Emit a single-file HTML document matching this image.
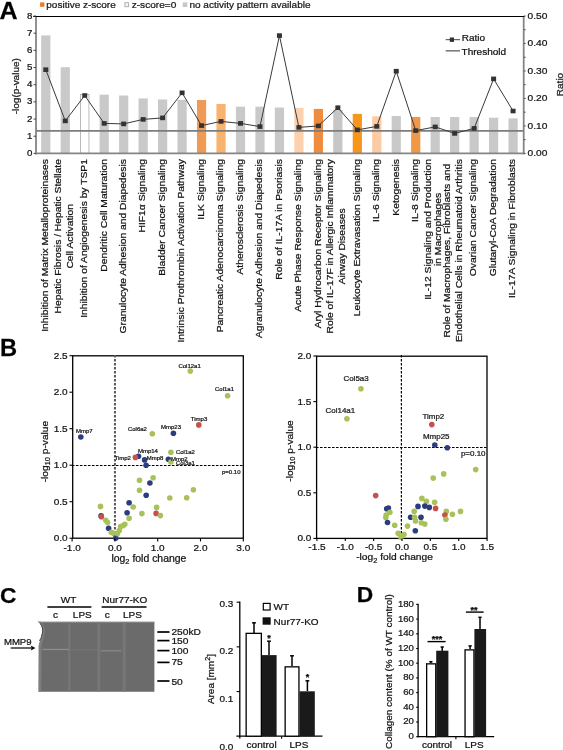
<!DOCTYPE html>
<html><head><meta charset="utf-8"><title>Figure</title>
<style>
html,body{margin:0;padding:0;background:#fff;}
svg{display:block;font-family:"Liberation Sans", sans-serif;filter:blur(0.35px);}
text{stroke:#161616;stroke-width:0.25px;}
</style></head>
<body>
<svg width="563" height="750" viewBox="0 0 563 750">
<rect width="563" height="750" fill="#fff"/>
<text x="0" y="0" font-size="23.2" font-weight="bold" fill="#000" transform="translate(-0.6 19.4) scale(1.08 1)">A</text>
<rect x="40.10" y="2.40" width="4.30" height="4.40" fill="#E8782C"/>
<text x="0" y="0" font-size="10.0" text-anchor="start" fill="#222" transform="translate(46.30 7.80) scale(1 0.96)">positive z-score</text>
<rect x="124.90" y="2.70" width="3.60" height="4.00" fill="#f4f4f4" stroke="#a8a8a8" stroke-width="0.9"/>
<text x="0" y="0" font-size="10.1" text-anchor="start" fill="#222" transform="translate(131.70 7.80) scale(1 0.96)">z-score=0</text>
<rect x="182.70" y="2.40" width="4.60" height="4.60" fill="#c8c8c8"/>
<text x="0" y="0" font-size="10.05" text-anchor="start" fill="#222" transform="translate(189.40 7.80) scale(1 0.96)">no activity pattern available</text>
<rect x="41.20" y="35.41" width="9.20" height="117.99" fill="#c9c9c9"/>
<rect x="60.67" y="67.18" width="9.20" height="86.22" fill="#c9c9c9"/>
<rect x="80.54" y="94.37" width="8.40" height="59.03" fill="#fff" stroke="#aaa" stroke-width="0.8"/>
<rect x="99.61" y="94.66" width="9.20" height="58.74" fill="#c9c9c9"/>
<rect x="119.08" y="95.52" width="9.20" height="57.88" fill="#c9c9c9"/>
<rect x="138.55" y="98.44" width="9.20" height="54.96" fill="#c9c9c9"/>
<rect x="158.02" y="99.47" width="9.20" height="53.93" fill="#c9c9c9"/>
<rect x="177.49" y="99.81" width="9.20" height="53.59" fill="#c9c9c9"/>
<rect x="196.96" y="99.99" width="9.20" height="53.41" fill="#EF9A55"/>
<rect x="216.43" y="103.94" width="9.20" height="49.46" fill="#F8B36E"/>
<rect x="235.90" y="106.68" width="9.20" height="46.72" fill="#c9c9c9"/>
<rect x="255.37" y="106.68" width="9.20" height="46.72" fill="#c9c9c9"/>
<rect x="274.84" y="107.54" width="9.20" height="45.86" fill="#c9c9c9"/>
<rect x="294.31" y="107.89" width="9.20" height="45.51" fill="#FDD1AE"/>
<rect x="313.78" y="108.92" width="9.20" height="44.48" fill="#F08C3E"/>
<rect x="333.25" y="109.95" width="9.20" height="43.45" fill="#c6c6c6"/>
<rect x="352.72" y="113.90" width="9.20" height="39.50" fill="#F6961A"/>
<rect x="372.19" y="116.30" width="9.20" height="37.10" fill="#FDCBA3"/>
<rect x="391.66" y="115.96" width="9.20" height="37.44" fill="#c9c9c9"/>
<rect x="411.13" y="116.99" width="9.20" height="36.41" fill="#F09848"/>
<rect x="430.60" y="116.99" width="9.20" height="36.41" fill="#c9c9c9"/>
<rect x="450.07" y="116.99" width="9.20" height="36.41" fill="#c9c9c9"/>
<rect x="469.54" y="116.99" width="9.20" height="36.41" fill="#c9c9c9"/>
<rect x="489.01" y="117.68" width="9.20" height="35.72" fill="#c9c9c9"/>
<rect x="508.48" y="118.36" width="9.20" height="35.04" fill="#c9c9c9"/>
<line x1="33.20" y1="16.50" x2="524.60" y2="16.50" stroke="#000" stroke-width="1.0"/>
<line x1="36.00" y1="130.90" x2="523.70" y2="130.90" stroke="#7d7d7d" stroke-width="1.6"/>
<polyline points="45.80,69.70 65.27,120.90 84.74,95.50 104.21,123.40 123.68,123.90 143.15,119.40 162.62,117.90 182.09,92.80 201.56,125.60 221.03,121.40 240.50,123.40 259.97,126.60 279.44,35.60 298.91,127.40 318.38,125.90 337.85,107.70 357.32,129.90 376.79,126.40 396.26,71.20 415.73,130.60 435.20,126.90 454.67,133.40 474.14,128.40 493.61,78.90 513.08,111.00" fill="none" stroke="#3a3a3a" stroke-width="1"/>
<rect x="43.30" y="67.40" width="5.00" height="4.60" fill="#333"/>
<rect x="62.77" y="118.60" width="5.00" height="4.60" fill="#333"/>
<rect x="82.24" y="93.20" width="5.00" height="4.60" fill="#333"/>
<rect x="101.71" y="121.10" width="5.00" height="4.60" fill="#333"/>
<rect x="121.18" y="121.60" width="5.00" height="4.60" fill="#333"/>
<rect x="140.65" y="117.10" width="5.00" height="4.60" fill="#333"/>
<rect x="160.12" y="115.60" width="5.00" height="4.60" fill="#333"/>
<rect x="179.59" y="90.50" width="5.00" height="4.60" fill="#333"/>
<rect x="199.06" y="123.30" width="5.00" height="4.60" fill="#333"/>
<rect x="218.53" y="119.10" width="5.00" height="4.60" fill="#333"/>
<rect x="238.00" y="121.10" width="5.00" height="4.60" fill="#333"/>
<rect x="257.47" y="124.30" width="5.00" height="4.60" fill="#333"/>
<rect x="276.94" y="33.30" width="5.00" height="4.60" fill="#333"/>
<rect x="296.41" y="125.10" width="5.00" height="4.60" fill="#333"/>
<rect x="315.88" y="123.60" width="5.00" height="4.60" fill="#333"/>
<rect x="335.35" y="105.40" width="5.00" height="4.60" fill="#333"/>
<rect x="354.82" y="127.60" width="5.00" height="4.60" fill="#333"/>
<rect x="374.29" y="124.10" width="5.00" height="4.60" fill="#333"/>
<rect x="393.76" y="68.90" width="5.00" height="4.60" fill="#333"/>
<rect x="413.23" y="128.30" width="5.00" height="4.60" fill="#333"/>
<rect x="432.70" y="124.60" width="5.00" height="4.60" fill="#333"/>
<rect x="452.17" y="131.10" width="5.00" height="4.60" fill="#333"/>
<rect x="471.64" y="126.10" width="5.00" height="4.60" fill="#333"/>
<rect x="491.11" y="76.60" width="5.00" height="4.60" fill="#333"/>
<rect x="510.58" y="108.70" width="5.00" height="4.60" fill="#333"/>
<line x1="36.00" y1="17.00" x2="36.00" y2="154.40" stroke="#858585" stroke-width="1.8"/>
<line x1="523.70" y1="17.00" x2="523.70" y2="154.40" stroke="#858585" stroke-width="1.8"/>
<line x1="36.00" y1="153.40" x2="523.70" y2="153.40" stroke="#858585" stroke-width="1.8"/>
<line x1="33.60" y1="153.40" x2="36.00" y2="153.40" stroke="#444" stroke-width="1"/>
<text x="0" y="0" font-size="9.7" text-anchor="end" fill="#111" transform="translate(32.50 155.90) scale(1 0.96)">0</text>
<line x1="33.60" y1="136.22" x2="36.00" y2="136.22" stroke="#444" stroke-width="1"/>
<text x="0" y="0" font-size="9.7" text-anchor="end" fill="#111" transform="translate(32.50 138.72) scale(1 0.96)">1</text>
<line x1="33.60" y1="119.05" x2="36.00" y2="119.05" stroke="#444" stroke-width="1"/>
<text x="0" y="0" font-size="9.7" text-anchor="end" fill="#111" transform="translate(32.50 121.55) scale(1 0.96)">2</text>
<line x1="33.60" y1="101.88" x2="36.00" y2="101.88" stroke="#444" stroke-width="1"/>
<text x="0" y="0" font-size="9.7" text-anchor="end" fill="#111" transform="translate(32.50 104.38) scale(1 0.96)">3</text>
<line x1="33.60" y1="84.70" x2="36.00" y2="84.70" stroke="#444" stroke-width="1"/>
<text x="0" y="0" font-size="9.7" text-anchor="end" fill="#111" transform="translate(32.50 87.20) scale(1 0.96)">4</text>
<line x1="33.60" y1="67.53" x2="36.00" y2="67.53" stroke="#444" stroke-width="1"/>
<text x="0" y="0" font-size="9.7" text-anchor="end" fill="#111" transform="translate(32.50 70.03) scale(1 0.96)">5</text>
<line x1="33.60" y1="50.35" x2="36.00" y2="50.35" stroke="#444" stroke-width="1"/>
<text x="0" y="0" font-size="9.7" text-anchor="end" fill="#111" transform="translate(32.50 52.85) scale(1 0.96)">6</text>
<line x1="33.60" y1="33.17" x2="36.00" y2="33.17" stroke="#444" stroke-width="1"/>
<text x="0" y="0" font-size="9.7" text-anchor="end" fill="#111" transform="translate(32.50 35.67) scale(1 0.96)">7</text>
<line x1="33.60" y1="16.00" x2="36.00" y2="16.00" stroke="#444" stroke-width="1"/>
<text x="0" y="0" font-size="9.7" text-anchor="end" fill="#111" transform="translate(32.50 18.50) scale(1 0.96)">8</text>
<line x1="523.70" y1="153.40" x2="525.70" y2="153.40" stroke="#555" stroke-width="1"/>
<text x="0" y="0" font-size="10.2" text-anchor="start" fill="#111" transform="translate(527.60 156.20) scale(1 0.96)">0.00</text>
<line x1="523.70" y1="139.66" x2="525.70" y2="139.66" stroke="#555" stroke-width="1"/>
<line x1="523.70" y1="125.92" x2="525.70" y2="125.92" stroke="#555" stroke-width="1"/>
<text x="0" y="0" font-size="10.2" text-anchor="start" fill="#111" transform="translate(527.60 128.72) scale(1 0.96)">0.10</text>
<line x1="523.70" y1="112.18" x2="525.70" y2="112.18" stroke="#555" stroke-width="1"/>
<line x1="523.70" y1="98.44" x2="525.70" y2="98.44" stroke="#555" stroke-width="1"/>
<text x="0" y="0" font-size="10.2" text-anchor="start" fill="#111" transform="translate(527.60 101.24) scale(1 0.96)">0.20</text>
<line x1="523.70" y1="84.70" x2="525.70" y2="84.70" stroke="#555" stroke-width="1"/>
<line x1="523.70" y1="70.96" x2="525.70" y2="70.96" stroke="#555" stroke-width="1"/>
<text x="0" y="0" font-size="10.2" text-anchor="start" fill="#111" transform="translate(527.60 73.76) scale(1 0.96)">0.30</text>
<line x1="523.70" y1="57.22" x2="525.70" y2="57.22" stroke="#555" stroke-width="1"/>
<line x1="523.70" y1="43.48" x2="525.70" y2="43.48" stroke="#555" stroke-width="1"/>
<text x="0" y="0" font-size="10.2" text-anchor="start" fill="#111" transform="translate(527.60 46.28) scale(1 0.96)">0.40</text>
<line x1="523.70" y1="29.74" x2="525.70" y2="29.74" stroke="#555" stroke-width="1"/>
<line x1="523.70" y1="16.00" x2="525.70" y2="16.00" stroke="#555" stroke-width="1"/>
<text x="0" y="0" font-size="10.2" text-anchor="start" fill="#111" transform="translate(527.60 18.80) scale(1 0.96)">0.50</text>
<text x="0" y="0" font-size="10" text-anchor="middle" fill="#222" transform="translate(18.50 86.20) rotate(-90) scale(1 0.96)">-log(p-value)</text>
<text x="0" y="0" font-size="10" text-anchor="middle" fill="#222" transform="translate(563.00 84.50) rotate(-90) scale(1 0.96)">Ratio</text>
<line x1="445.70" y1="39.70" x2="460.00" y2="39.70" stroke="#444" stroke-width="1"/>
<rect x="449.80" y="37.50" width="4.20" height="4.40" fill="#333"/>
<text x="0" y="0" font-size="10" text-anchor="start" fill="#111" transform="translate(461.80 41.30) scale(1 0.96)">Ratio</text>
<line x1="445.70" y1="50.80" x2="460.00" y2="50.80" stroke="#7d7d7d" stroke-width="1.6"/>
<text x="0" y="0" font-size="10" text-anchor="start" fill="#111" transform="translate(461.60 55.00) scale(1 0.96)">Threshold</text>
<text x="0" y="0" font-size="10.3" text-anchor="middle" fill="#111" transform="translate(48.10 245.44) rotate(-90) scale(1 0.96)">Inhibition of Matrix Metalloproteinases</text>
<text x="0" y="0" font-size="10.3" text-anchor="middle" fill="#111" transform="translate(60.67 236.28) rotate(-90) scale(1 0.96)">Hepatic Fibrosis / Hepatic Stellate</text>
<text x="0" y="0" font-size="10.3" text-anchor="middle" fill="#111" transform="translate(72.87 236.28) rotate(-90) scale(1 0.96)">Cell Activation</text>
<text x="0" y="0" font-size="10.3" text-anchor="middle" fill="#111" transform="translate(87.04 238.49) rotate(-90) scale(1 0.96)">Inhibition of Angiogenesis by TSP1</text>
<text x="0" y="0" font-size="10.3" text-anchor="middle" fill="#111" transform="translate(106.51 215.38) rotate(-90) scale(1 0.96)">Dendritic Cell Maturation</text>
<text x="0" y="0" font-size="10.3" text-anchor="middle" fill="#111" transform="translate(125.98 246.32) rotate(-90) scale(1 0.96)">Granulocyte Adhesion and Diapedesis</text>
<text x="0" y="0" font-size="10.3" text-anchor="middle" fill="#111" transform="translate(145.45 195.75) rotate(-90) scale(1 0.96)">HIF1α Signaling</text>
<text x="0" y="0" font-size="10.3" text-anchor="middle" fill="#111" transform="translate(164.92 217.40) rotate(-90) scale(1 0.96)">Bladder Cancer Signaling</text>
<text x="0" y="0" font-size="10.3" text-anchor="middle" fill="#111" transform="translate(184.39 250.88) rotate(-90) scale(1 0.96)">Intrinsic Prothrombin Activation Pathway</text>
<text x="0" y="0" font-size="10.3" text-anchor="middle" fill="#111" transform="translate(203.86 189.35) rotate(-90) scale(1 0.96)">ILK Signaling</text>
<text x="0" y="0" font-size="10.3" text-anchor="middle" fill="#111" transform="translate(223.33 245.74) rotate(-90) scale(1 0.96)">Pancreatic Adenocarcinoma Signaling</text>
<text x="0" y="0" font-size="10.3" text-anchor="middle" fill="#111" transform="translate(242.80 216.82) rotate(-90) scale(1 0.96)">Atherosclerosis Signaling</text>
<text x="0" y="0" font-size="10.3" text-anchor="middle" fill="#111" transform="translate(262.27 248.61) rotate(-90) scale(1 0.96)">Agranulocyte Adhesion and Diapedesis</text>
<text x="0" y="0" font-size="10.3" text-anchor="middle" fill="#111" transform="translate(281.74 219.40) rotate(-90) scale(1 0.96)">Role of IL-17A in Psoriasis</text>
<text x="0" y="0" font-size="10.3" text-anchor="middle" fill="#111" transform="translate(301.21 235.44) rotate(-90) scale(1 0.96)">Acute Phase Response Signaling</text>
<text x="0" y="0" font-size="10.3" text-anchor="middle" fill="#111" transform="translate(320.68 243.73) rotate(-90) scale(1 0.96)">Aryl Hydrocarbon Receptor Signaling</text>
<text x="0" y="0" font-size="10.3" text-anchor="middle" fill="#111" transform="translate(333.25 246.29) rotate(-90) scale(1 0.96)">Role of IL-17F in Allergic Inflammatory</text>
<text x="0" y="0" font-size="10.3" text-anchor="middle" fill="#111" transform="translate(345.45 246.29) rotate(-90) scale(1 0.96)">Airway Diseases</text>
<text x="0" y="0" font-size="10.3" text-anchor="middle" fill="#111" transform="translate(359.62 237.72) rotate(-90) scale(1 0.96)">Leukocyte Extravasation Signaling</text>
<text x="0" y="0" font-size="10.3" text-anchor="middle" fill="#111" transform="translate(379.09 190.49) rotate(-90) scale(1 0.96)">IL-6 Signaling</text>
<text x="0" y="0" font-size="10.3" text-anchor="middle" fill="#111" transform="translate(398.56 187.34) rotate(-90) scale(1 0.96)">Ketogenesis</text>
<text x="0" y="0" font-size="10.3" text-anchor="middle" fill="#111" transform="translate(418.03 190.49) rotate(-90) scale(1 0.96)">IL-8 Signaling</text>
<text x="0" y="0" font-size="10.3" text-anchor="middle" fill="#111" transform="translate(430.60 229.43) rotate(-90) scale(1 0.96)">IL-12 Signaling and Production</text>
<text x="0" y="0" font-size="10.3" text-anchor="middle" fill="#111" transform="translate(441.10 229.43) rotate(-90) scale(1 0.96)">in Macrophages</text>
<text x="0" y="0" font-size="10.3" text-anchor="middle" fill="#111" transform="translate(450.07 250.60) rotate(-90) scale(1 0.96)">Role of Macrophages, Fibroblasts and</text>
<text x="0" y="0" font-size="10.3" text-anchor="middle" fill="#111" transform="translate(462.27 250.60) rotate(-90) scale(1 0.96)">Endothelial Cells in Rheumatoid Arthritis</text>
<text x="0" y="0" font-size="10.3" text-anchor="middle" fill="#111" transform="translate(476.44 217.68) rotate(-90) scale(1 0.96)">Ovarian Cancer Signaling</text>
<text x="0" y="0" font-size="10.3" text-anchor="middle" fill="#111" transform="translate(495.91 217.68) rotate(-90) scale(1 0.96)">Glutaryl-CoA Degradation</text>
<text x="0" y="0" font-size="10.3" text-anchor="middle" fill="#111" transform="translate(515.38 228.56) rotate(-90) scale(1 0.96)">IL-17A Signaling in Fibroblasts</text>
<text x="0" y="0" font-size="23" font-weight="bold" fill="#000" transform="translate(-0.1 356.1) scale(1.03 1)">B</text>
<rect x="72.7" y="355.8" width="170.60" height="182.40" fill="none" stroke="#000" stroke-width="1.3"/>
<line x1="114.95" y1="355.10" x2="114.95" y2="538.20" stroke="#5a5a5a" stroke-width="2.0" stroke-dasharray="2.5,1.5"/>
<line x1="71.90" y1="465.50" x2="243.30" y2="465.50" stroke="#000" stroke-width="1.2" stroke-dasharray="2.6,1.4"/>
<circle cx="190.30" cy="371.10" r="2.8" fill="#A9C15A"/>
<circle cx="227.60" cy="395.80" r="2.8" fill="#A9C15A"/>
<circle cx="198.80" cy="424.90" r="2.8" fill="#C8504A"/>
<circle cx="173.40" cy="433.30" r="2.8" fill="#2A3D7F"/>
<circle cx="152.30" cy="433.80" r="2.8" fill="#A9C15A"/>
<circle cx="80.80" cy="437.00" r="2.8" fill="#2A3D7F"/>
<circle cx="170.90" cy="452.30" r="2.8" fill="#A9C15A"/>
<circle cx="138.50" cy="456.30" r="2.8" fill="#2A3D7F"/>
<circle cx="135.40" cy="457.40" r="2.8" fill="#C8504A"/>
<circle cx="144.60" cy="459.90" r="2.8" fill="#2A3D7F"/>
<circle cx="168.40" cy="459.30" r="2.8" fill="#2A3D7F"/>
<circle cx="170.90" cy="462.00" r="2.8" fill="#A9C15A"/>
<circle cx="146.10" cy="465.30" r="2.8" fill="#2A3D7F"/>
<circle cx="139.50" cy="480.30" r="2.8" fill="#A9C15A"/>
<circle cx="153.10" cy="477.80" r="2.8" fill="#A9C15A"/>
<circle cx="149.90" cy="483.00" r="2.8" fill="#2A3D7F"/>
<circle cx="139.50" cy="490.20" r="2.8" fill="#A9C15A"/>
<circle cx="146.20" cy="495.20" r="2.8" fill="#2A3D7F"/>
<circle cx="193.40" cy="489.70" r="2.8" fill="#A9C15A"/>
<circle cx="169.80" cy="498.00" r="2.8" fill="#A9C15A"/>
<circle cx="186.70" cy="497.70" r="2.8" fill="#A9C15A"/>
<circle cx="133.20" cy="507.00" r="2.8" fill="#A9C15A"/>
<circle cx="156.60" cy="507.40" r="2.8" fill="#A9C15A"/>
<circle cx="141.90" cy="513.60" r="2.8" fill="#A9C15A"/>
<circle cx="156.10" cy="513.40" r="2.8" fill="#C8504A"/>
<circle cx="160.40" cy="515.60" r="2.8" fill="#A9C15A"/>
<circle cx="100.50" cy="506.40" r="2.8" fill="#A9C15A"/>
<circle cx="101.10" cy="515.90" r="2.8" fill="#2A3D7F"/>
<circle cx="101.40" cy="516.80" r="2.8" fill="#C8504A"/>
<circle cx="105.80" cy="520.30" r="2.8" fill="#A9C15A"/>
<circle cx="107.60" cy="522.50" r="2.8" fill="#A9C15A"/>
<circle cx="108.60" cy="528.30" r="2.8" fill="#2A3D7F"/>
<circle cx="111.30" cy="532.30" r="2.8" fill="#A9C15A"/>
<circle cx="113.50" cy="533.20" r="2.8" fill="#A9C15A"/>
<circle cx="115.80" cy="538.10" r="2.8" fill="#2A3D7F"/>
<circle cx="117.50" cy="533.60" r="2.8" fill="#A9C15A"/>
<circle cx="119.30" cy="530.50" r="2.8" fill="#A9C15A"/>
<circle cx="120.60" cy="526.50" r="2.8" fill="#A9C15A"/>
<circle cx="123.30" cy="525.60" r="2.8" fill="#A9C15A"/>
<circle cx="124.80" cy="524.30" r="2.8" fill="#A9C15A"/>
<circle cx="129.10" cy="518.30" r="2.8" fill="#A9C15A"/>
<circle cx="127.10" cy="512.80" r="2.8" fill="#2A3D7F"/>
<circle cx="129.10" cy="502.80" r="2.8" fill="#2A3D7F"/>
<line x1="69.50" y1="538.20" x2="72.70" y2="538.20" stroke="#000" stroke-width="1.1"/>
<text x="0" y="0" font-size="10" text-anchor="end" fill="#111" transform="translate(67.60 541.20) scale(1 0.96)">0.0</text>
<line x1="69.50" y1="501.70" x2="72.70" y2="501.70" stroke="#000" stroke-width="1.1"/>
<text x="0" y="0" font-size="10" text-anchor="end" fill="#111" transform="translate(67.60 504.70) scale(1 0.96)">0.5</text>
<line x1="69.50" y1="465.20" x2="72.70" y2="465.20" stroke="#000" stroke-width="1.1"/>
<text x="0" y="0" font-size="10" text-anchor="end" fill="#111" transform="translate(67.60 468.20) scale(1 0.96)">1.0</text>
<line x1="69.50" y1="428.70" x2="72.70" y2="428.70" stroke="#000" stroke-width="1.1"/>
<text x="0" y="0" font-size="10" text-anchor="end" fill="#111" transform="translate(67.60 431.70) scale(1 0.96)">1.5</text>
<line x1="69.50" y1="392.20" x2="72.70" y2="392.20" stroke="#000" stroke-width="1.1"/>
<text x="0" y="0" font-size="10" text-anchor="end" fill="#111" transform="translate(67.60 395.20) scale(1 0.96)">2.0</text>
<line x1="69.50" y1="355.70" x2="72.70" y2="355.70" stroke="#000" stroke-width="1.1"/>
<text x="0" y="0" font-size="10" text-anchor="end" fill="#111" transform="translate(67.60 358.70) scale(1 0.96)">2.5</text>
<line x1="72.10" y1="538.20" x2="72.10" y2="541.40" stroke="#000" stroke-width="1.1"/>
<text x="0" y="0" font-size="10" text-anchor="middle" fill="#111" transform="translate(72.10 550.80) scale(1 0.96)">-1.0</text>
<line x1="114.90" y1="538.20" x2="114.90" y2="541.40" stroke="#000" stroke-width="1.1"/>
<text x="0" y="0" font-size="10" text-anchor="middle" fill="#111" transform="translate(114.90 550.80) scale(1 0.96)">0.0</text>
<line x1="157.70" y1="538.20" x2="157.70" y2="541.40" stroke="#000" stroke-width="1.1"/>
<text x="0" y="0" font-size="10" text-anchor="middle" fill="#111" transform="translate(157.70 550.80) scale(1 0.96)">1.0</text>
<line x1="200.50" y1="538.20" x2="200.50" y2="541.40" stroke="#000" stroke-width="1.1"/>
<text x="0" y="0" font-size="10" text-anchor="middle" fill="#111" transform="translate(200.50 550.80) scale(1 0.96)">2.0</text>
<line x1="243.30" y1="538.20" x2="243.30" y2="541.40" stroke="#000" stroke-width="1.1"/>
<text x="0" y="0" font-size="10" text-anchor="middle" fill="#111" transform="translate(243.30 550.80) scale(1 0.96)">3.0</text>
<text x="0" y="0" font-size="6.0" text-anchor="start" fill="#222" transform="translate(178.40 367.50) scale(1 0.96)">Col12a1</text>
<text x="0" y="0" font-size="6.0" text-anchor="start" fill="#222" transform="translate(215.00 391.40) scale(1 0.96)">Col1a1</text>
<text x="0" y="0" font-size="6.0" text-anchor="start" fill="#222" transform="translate(190.80 421.00) scale(1 0.96)">Timp3</text>
<text x="0" y="0" font-size="6.0" text-anchor="start" fill="#222" transform="translate(161.00 429.40) scale(1 0.96)">Mmp23</text>
<text x="0" y="0" font-size="6.0" text-anchor="start" fill="#222" transform="translate(127.90 431.20) scale(1 0.96)">Col6a2</text>
<text x="0" y="0" font-size="6.0" text-anchor="start" fill="#222" transform="translate(75.90 432.80) scale(1 0.96)">Mmp7</text>
<text x="0" y="0" font-size="6.0" text-anchor="start" fill="#222" transform="translate(137.90 452.80) scale(1 0.96)">Mmp14</text>
<text x="0" y="0" font-size="6.0" text-anchor="start" fill="#222" transform="translate(114.50 460.30) scale(1 0.96)">Timp2</text>
<text x="0" y="0" font-size="6.0" text-anchor="start" fill="#222" transform="translate(146.80 460.10) scale(1 0.96)">Mmp8</text>
<text x="0" y="0" font-size="6.0" text-anchor="start" fill="#222" transform="translate(175.90 454.10) scale(1 0.96)">Col1a2</text>
<text x="0" y="0" font-size="6.0" text-anchor="start" fill="#222" transform="translate(171.00 460.50) scale(1 0.96)">Mmp2</text>
<text x="0" y="0" font-size="6.0" text-anchor="start" fill="#222" transform="translate(175.90 464.50) scale(1 0.96)">Col3a1</text>
<text x="0" y="0" font-size="6.0" text-anchor="start" fill="#222" transform="translate(222.00 474.40) scale(1 0.96)">p=0.10</text>
<text x="0" y="0" font-size="10.2" text-anchor="middle" fill="#111" transform="translate(47.6 451.6) rotate(-90) scale(1 0.96)">-log<tspan font-size="7.4" dy="2.6">10</tspan><tspan dy="-2.6"> p-value</tspan></text>
<text x="0" y="0" font-size="10.45" text-anchor="middle" fill="#111" transform="translate(148.9 561.8) scale(1 0.96)">log<tspan font-size="7.4" dy="2.6">2</tspan><tspan dy="-2.6"> fold change</tspan></text>
<rect x="316.6" y="356.2" width="170.40" height="182.20" fill="none" stroke="#000" stroke-width="1.3"/>
<line x1="401.40" y1="355.10" x2="401.40" y2="538.40" stroke="#000" stroke-width="1.2" stroke-dasharray="2.5,1.5"/>
<line x1="316.00" y1="447.50" x2="487.00" y2="447.50" stroke="#000" stroke-width="1.1" stroke-dasharray="2.6,1.4"/>
<circle cx="360.90" cy="388.70" r="2.8" fill="#A9C15A"/>
<circle cx="346.90" cy="418.70" r="2.8" fill="#A9C15A"/>
<circle cx="431.80" cy="424.60" r="2.8" fill="#C8504A"/>
<circle cx="434.80" cy="445.00" r="2.8" fill="#2A3D7F"/>
<circle cx="447.30" cy="447.70" r="2.8" fill="#2A3D7F"/>
<circle cx="475.70" cy="469.60" r="2.8" fill="#A9C15A"/>
<circle cx="443.70" cy="473.90" r="2.8" fill="#A9C15A"/>
<circle cx="433.20" cy="478.10" r="2.8" fill="#A9C15A"/>
<circle cx="375.70" cy="495.60" r="2.8" fill="#C8504A"/>
<circle cx="421.90" cy="498.40" r="2.8" fill="#A9C15A"/>
<circle cx="426.40" cy="501.40" r="2.8" fill="#A9C15A"/>
<circle cx="434.60" cy="502.30" r="2.8" fill="#A9C15A"/>
<circle cx="418.00" cy="506.40" r="2.8" fill="#2A3D7F"/>
<circle cx="424.80" cy="506.10" r="2.8" fill="#2A3D7F"/>
<circle cx="429.30" cy="507.40" r="2.8" fill="#2A3D7F"/>
<circle cx="435.60" cy="508.40" r="2.8" fill="#C8504A"/>
<circle cx="386.70" cy="508.80" r="2.8" fill="#2A3D7F"/>
<circle cx="388.40" cy="508.10" r="2.8" fill="#2A3D7F"/>
<circle cx="389.90" cy="512.30" r="2.8" fill="#A9C15A"/>
<circle cx="386.20" cy="515.00" r="2.8" fill="#A9C15A"/>
<circle cx="385.80" cy="517.60" r="2.8" fill="#A9C15A"/>
<circle cx="387.50" cy="522.50" r="2.8" fill="#2A3D7F"/>
<circle cx="394.70" cy="525.20" r="2.8" fill="#A9C15A"/>
<circle cx="398.20" cy="533.20" r="2.8" fill="#A9C15A"/>
<circle cx="400.90" cy="537.20" r="2.8" fill="#A9C15A"/>
<circle cx="404.00" cy="534.50" r="2.8" fill="#A9C15A"/>
<circle cx="407.50" cy="526.10" r="2.8" fill="#A9C15A"/>
<circle cx="410.60" cy="517.20" r="2.8" fill="#2A3D7F"/>
<circle cx="414.20" cy="511.40" r="2.8" fill="#A9C15A"/>
<circle cx="414.60" cy="517.20" r="2.8" fill="#A9C15A"/>
<circle cx="415.50" cy="520.90" r="2.8" fill="#A9C15A"/>
<circle cx="421.00" cy="517.20" r="2.8" fill="#2A3D7F"/>
<circle cx="415.30" cy="530.70" r="2.8" fill="#2A3D7F"/>
<circle cx="421.30" cy="522.70" r="2.8" fill="#A9C15A"/>
<circle cx="424.80" cy="524.10" r="2.8" fill="#A9C15A"/>
<circle cx="446.30" cy="511.40" r="2.8" fill="#A9C15A"/>
<circle cx="444.90" cy="515.10" r="2.8" fill="#C8504A"/>
<circle cx="452.40" cy="514.20" r="2.8" fill="#A9C15A"/>
<circle cx="460.50" cy="511.40" r="2.8" fill="#A9C15A"/>
<circle cx="445.90" cy="519.20" r="2.8" fill="#A9C15A"/>
<line x1="313.40" y1="538.40" x2="316.60" y2="538.40" stroke="#000" stroke-width="1.1"/>
<text x="0" y="0" font-size="10" text-anchor="end" fill="#111" transform="translate(311.40 541.40) scale(1 0.96)">0.0</text>
<line x1="313.40" y1="492.80" x2="316.60" y2="492.80" stroke="#000" stroke-width="1.1"/>
<text x="0" y="0" font-size="10" text-anchor="end" fill="#111" transform="translate(311.40 495.80) scale(1 0.96)">0.5</text>
<line x1="313.40" y1="447.20" x2="316.60" y2="447.20" stroke="#000" stroke-width="1.1"/>
<text x="0" y="0" font-size="10" text-anchor="end" fill="#111" transform="translate(311.40 450.20) scale(1 0.96)">1.0</text>
<line x1="313.40" y1="401.60" x2="316.60" y2="401.60" stroke="#000" stroke-width="1.1"/>
<text x="0" y="0" font-size="10" text-anchor="end" fill="#111" transform="translate(311.40 404.60) scale(1 0.96)">1.5</text>
<line x1="313.40" y1="356.00" x2="316.60" y2="356.00" stroke="#000" stroke-width="1.1"/>
<text x="0" y="0" font-size="10" text-anchor="end" fill="#111" transform="translate(311.40 359.00) scale(1 0.96)">2.0</text>
<line x1="316.95" y1="538.40" x2="316.95" y2="541.00" stroke="#000" stroke-width="1.1"/>
<text x="0" y="0" font-size="10" text-anchor="middle" fill="#111" transform="translate(316.95 549.90) scale(1 0.96)">-1.5</text>
<line x1="345.30" y1="538.40" x2="345.30" y2="541.00" stroke="#000" stroke-width="1.1"/>
<text x="0" y="0" font-size="10" text-anchor="middle" fill="#111" transform="translate(345.30 549.90) scale(1 0.96)">-1.0</text>
<line x1="373.65" y1="538.40" x2="373.65" y2="541.00" stroke="#000" stroke-width="1.1"/>
<text x="0" y="0" font-size="10" text-anchor="middle" fill="#111" transform="translate(373.65 549.90) scale(1 0.96)">-0.5</text>
<line x1="402.00" y1="538.40" x2="402.00" y2="541.00" stroke="#000" stroke-width="1.1"/>
<text x="0" y="0" font-size="10" text-anchor="middle" fill="#111" transform="translate(402.00 549.90) scale(1 0.96)">0.0</text>
<line x1="430.35" y1="538.40" x2="430.35" y2="541.00" stroke="#000" stroke-width="1.1"/>
<text x="0" y="0" font-size="10" text-anchor="middle" fill="#111" transform="translate(430.35 549.90) scale(1 0.96)">0.5</text>
<line x1="458.70" y1="538.40" x2="458.70" y2="541.00" stroke="#000" stroke-width="1.1"/>
<text x="0" y="0" font-size="10" text-anchor="middle" fill="#111" transform="translate(458.70 549.90) scale(1 0.96)">1.0</text>
<line x1="487.05" y1="538.40" x2="487.05" y2="541.00" stroke="#000" stroke-width="1.1"/>
<text x="0" y="0" font-size="10" text-anchor="middle" fill="#111" transform="translate(487.05 549.90) scale(1 0.96)">1.5</text>
<text x="0" y="0" font-size="8.0" text-anchor="start" fill="#222" transform="translate(343.40 381.00) scale(1 0.96)">Col5a3</text>
<text x="0" y="0" font-size="8.0" text-anchor="start" fill="#222" transform="translate(325.50 413.00) scale(1 0.96)">Col14a1</text>
<text x="0" y="0" font-size="8.0" text-anchor="start" fill="#222" transform="translate(422.40 418.80) scale(1 0.96)">Timp2</text>
<text x="0" y="0" font-size="8.0" text-anchor="start" fill="#222" transform="translate(422.90 439.40) scale(1 0.96)">Mmp25</text>
<text x="0" y="0" font-size="8.0" text-anchor="start" fill="#222" transform="translate(460.90 456.10) scale(1 0.96)">p=0.10</text>
<text x="0" y="0" font-size="10.2" text-anchor="middle" fill="#111" transform="translate(292.8 451) rotate(-90) scale(1 0.96)">-log<tspan font-size="7.4" dy="2.6">10</tspan><tspan dy="-2.6"> p-value</tspan></text>
<text x="0" y="0" font-size="10.2" text-anchor="middle" fill="#111" transform="translate(394.5 560.0) scale(1 0.96)">-log<tspan font-size="7.4" dy="2.6">2</tspan><tspan dy="-2.6"> fold change</tspan></text>
<text x="0" y="0" font-size="22.8" text-anchor="start" font-weight="bold" fill="#000" transform="translate(-0.10 602.50)">C</text>
<text x="0" y="0" font-size="10" text-anchor="middle" fill="#111" transform="translate(68.60 602.50) scale(1 0.96)">WT</text>
<line x1="47.40" y1="606.90" x2="91.40" y2="606.90" stroke="#000" stroke-width="1.5"/>
<text x="0" y="0" font-size="10" text-anchor="middle" fill="#111" transform="translate(55.50 618.00) scale(1 0.96)">c</text>
<text x="0" y="0" font-size="10" text-anchor="middle" fill="#111" transform="translate(82.30 618.00) scale(1 0.96)">LPS</text>
<text x="0" y="0" font-size="10" text-anchor="middle" fill="#111" transform="translate(124.80 602.50) scale(1 0.96)">Nur77-KO</text>
<line x1="101.60" y1="607.10" x2="146.50" y2="607.10" stroke="#000" stroke-width="1.5"/>
<text x="0" y="0" font-size="10" text-anchor="middle" fill="#111" transform="translate(107.30 618.00) scale(1 0.96)">c</text>
<text x="0" y="0" font-size="10" text-anchor="middle" fill="#111" transform="translate(132.50 618.00) scale(1 0.96)">LPS</text>
<path d="M39.0,621.8 L154.4,621.8 L154.4,691.8 L38.6,691.8 L38.8,645 L40.9,638.5 L42.8,631 L41.6,626 Z" fill="#6b6b6b"/>
<path d="M39.0,621.8 L41.6,626 L42.8,631 L40.9,638.5 L38.8,645 L38.6,691.8 L41.2,691.8 L41.6,645 L43.6,638.5 L44.8,631 L43.4,625.5 L41.5,621.8 Z" fill="#7e7e7e"/>
<path d="M38.2,621.4 Q43.5,626 42.6,632 Q41.6,638 39.4,641" fill="none" stroke="#333" stroke-width="0.8"/>
<rect x="39.0" y="621.8" width="115.4" height="1.2" fill="#8a8a8a" opacity="0.7"/>
<rect x="68.2" y="622.4" width="2.2" height="69.4" fill="#7b7b7b" opacity="0.8"/>
<rect x="97.3" y="622.4" width="3.0" height="69.4" fill="#7b7b7b" opacity="0.8"/>
<rect x="122.7" y="622.4" width="3.0" height="69.4" fill="#7b7b7b" opacity="0.8"/>
<rect x="42.5" y="648.8" width="26.5" height="1.3" fill="#8e8e8e"/>
<rect x="70.5" y="649.3" width="27" height="1.0" fill="#767676"/>
<rect x="100.6" y="650.2" width="20.5" height="1.2" fill="#8a8a8a"/>
<text x="0" y="0" font-size="9.6" text-anchor="start" fill="#111" transform="translate(3.90 644.50) scale(1 0.96)">MMP9</text>
<line x1="10.70" y1="648.00" x2="33.00" y2="648.00" stroke="#000" stroke-width="1.2"/>
<path d="M35.4,648 L30.8,645.6 L31.8,648 L30.8,650.4 Z" fill="#000"/>
<line x1="157.30" y1="632.00" x2="169.50" y2="632.00" stroke="#000" stroke-width="1.7"/>
<text x="0" y="0" font-size="10.2" text-anchor="start" fill="#111" transform="translate(171.40 634.70) scale(1 0.96)">250kD</text>
<line x1="157.30" y1="640.60" x2="169.50" y2="640.60" stroke="#000" stroke-width="1.7"/>
<text x="0" y="0" font-size="10.2" text-anchor="start" fill="#111" transform="translate(171.40 643.50) scale(1 0.96)">150</text>
<line x1="157.30" y1="650.60" x2="169.50" y2="650.60" stroke="#000" stroke-width="1.7"/>
<text x="0" y="0" font-size="10.2" text-anchor="start" fill="#111" transform="translate(171.40 653.50) scale(1 0.96)">100</text>
<line x1="157.30" y1="662.40" x2="169.50" y2="662.40" stroke="#000" stroke-width="1.7"/>
<text x="0" y="0" font-size="10.2" text-anchor="start" fill="#111" transform="translate(171.40 665.00) scale(1 0.96)">75</text>
<line x1="157.30" y1="681.00" x2="169.50" y2="681.00" stroke="#000" stroke-width="1.7"/>
<text x="0" y="0" font-size="10.2" text-anchor="start" fill="#111" transform="translate(171.40 684.50) scale(1 0.96)">50</text>
<line x1="239.80" y1="601.40" x2="239.80" y2="738.40" stroke="#000" stroke-width="1.3"/>
<line x1="236.40" y1="736.20" x2="322.50" y2="736.20" stroke="#000" stroke-width="1.2"/>
<line x1="236.60" y1="691.53" x2="239.80" y2="691.53" stroke="#000" stroke-width="1.1"/>
<line x1="236.60" y1="646.87" x2="239.80" y2="646.87" stroke="#000" stroke-width="1.1"/>
<line x1="236.60" y1="602.20" x2="239.80" y2="602.20" stroke="#000" stroke-width="1.1"/>
<line x1="281.60" y1="736.20" x2="281.60" y2="738.80" stroke="#000" stroke-width="1.1"/>
<text x="0" y="0" font-size="10" text-anchor="end" fill="#111" transform="translate(233.30 606.80) scale(1 0.96)">0.3</text>
<text x="0" y="0" font-size="10" text-anchor="end" fill="#111" transform="translate(233.30 653.60) scale(1 0.96)">0.2</text>
<text x="0" y="0" font-size="10" text-anchor="end" fill="#111" transform="translate(233.30 702.40) scale(1 0.96)">0.1</text>
<text x="0" y="0" font-size="10" text-anchor="end" fill="#111" transform="translate(233.30 749.60) scale(1 0.96)">0.0</text>
<line x1="254.00" y1="633.00" x2="254.00" y2="622.80" stroke="#000" stroke-width="1.5"/>
<line x1="252.10" y1="622.80" x2="255.90" y2="622.80" stroke="#000" stroke-width="1.5"/>
<line x1="269.00" y1="655.00" x2="269.00" y2="641.20" stroke="#000" stroke-width="1.5"/>
<line x1="267.10" y1="641.20" x2="270.90" y2="641.20" stroke="#000" stroke-width="1.5"/>
<line x1="292.00" y1="666.00" x2="292.00" y2="655.80" stroke="#000" stroke-width="1.5"/>
<line x1="290.10" y1="655.80" x2="293.90" y2="655.80" stroke="#000" stroke-width="1.5"/>
<line x1="307.40" y1="691.00" x2="307.40" y2="680.80" stroke="#000" stroke-width="1.5"/>
<line x1="305.50" y1="680.80" x2="309.30" y2="680.80" stroke="#000" stroke-width="1.5"/>
<rect x="246.15" y="633.35" width="15.20" height="102.85" fill="#fff" stroke="#000" stroke-width="1.3"/>
<rect x="261.90" y="655.10" width="14.70" height="81.10" fill="#1a1a1a"/>
<rect x="285.15" y="666.85" width="13.80" height="69.35" fill="#fff" stroke="#000" stroke-width="1.3"/>
<rect x="299.50" y="691.30" width="15.30" height="44.90" fill="#1a1a1a"/>
<text x="0" y="0" font-size="9" text-anchor="middle" font-weight="bold" fill="#000" transform="translate(269.00 640.60)">*</text>
<text x="0" y="0" font-size="9" text-anchor="middle" font-weight="bold" fill="#000" transform="translate(307.40 680.40)">*</text>
<text x="0" y="0" font-size="10" text-anchor="middle" fill="#111" transform="translate(261.60 747.80) scale(1 0.96)">control</text>
<text x="0" y="0" font-size="10" text-anchor="middle" fill="#111" transform="translate(299.00 747.80) scale(1 0.96)">LPS</text>
<rect x="263.30" y="603.40" width="6.80" height="6.60" fill="#fff" stroke="#000" stroke-width="1.2"/>
<text x="0" y="0" font-size="10" text-anchor="start" fill="#111" transform="translate(273.60 610.10) scale(1 0.96)">WT</text>
<rect x="262.60" y="617.30" width="8.10" height="7.40" fill="#111"/>
<text x="0" y="0" font-size="10" text-anchor="start" fill="#111" transform="translate(273.60 624.70) scale(1 0.96)">Nur77-KO</text>
<text x="0" y="0" font-size="10" text-anchor="middle" fill="#111" transform="translate(213.9 679) rotate(-90) scale(1 0.96)">Area [mm<tspan font-size="7.4" dy="-4">2</tspan><tspan dy="4">]</tspan></text>
<text x="0" y="0" font-size="22.8" text-anchor="start" font-weight="bold" fill="#000" transform="translate(356.80 602.10)">D</text>
<line x1="418.10" y1="603.80" x2="418.10" y2="737.30" stroke="#000" stroke-width="1.3"/>
<line x1="417.50" y1="736.70" x2="494.20" y2="736.70" stroke="#000" stroke-width="1.3"/>
<line x1="455.90" y1="736.70" x2="455.90" y2="739.30" stroke="#000" stroke-width="1.1"/>
<line x1="416.20" y1="736.70" x2="418.10" y2="736.70" stroke="#000" stroke-width="1.1"/>
<text x="0" y="0" font-size="9.6" text-anchor="end" fill="#111" transform="translate(413.90 739.10) scale(1 0.96)">0</text>
<line x1="416.20" y1="722.00" x2="418.10" y2="722.00" stroke="#000" stroke-width="1.1"/>
<text x="0" y="0" font-size="9.6" text-anchor="end" fill="#111" transform="translate(413.90 724.40) scale(1 0.96)">20</text>
<line x1="416.20" y1="707.30" x2="418.10" y2="707.30" stroke="#000" stroke-width="1.1"/>
<text x="0" y="0" font-size="9.6" text-anchor="end" fill="#111" transform="translate(413.90 709.70) scale(1 0.96)">40</text>
<line x1="416.20" y1="692.60" x2="418.10" y2="692.60" stroke="#000" stroke-width="1.1"/>
<text x="0" y="0" font-size="9.6" text-anchor="end" fill="#111" transform="translate(413.90 695.00) scale(1 0.96)">60</text>
<line x1="416.20" y1="677.90" x2="418.10" y2="677.90" stroke="#000" stroke-width="1.1"/>
<text x="0" y="0" font-size="9.6" text-anchor="end" fill="#111" transform="translate(413.90 680.30) scale(1 0.96)">80</text>
<line x1="416.20" y1="663.20" x2="418.10" y2="663.20" stroke="#000" stroke-width="1.1"/>
<text x="0" y="0" font-size="9.6" text-anchor="end" fill="#111" transform="translate(413.90 665.60) scale(1 0.96)">100</text>
<line x1="416.20" y1="648.50" x2="418.10" y2="648.50" stroke="#000" stroke-width="1.1"/>
<text x="0" y="0" font-size="9.6" text-anchor="end" fill="#111" transform="translate(413.90 650.90) scale(1 0.96)">120</text>
<line x1="416.20" y1="633.80" x2="418.10" y2="633.80" stroke="#000" stroke-width="1.1"/>
<text x="0" y="0" font-size="9.6" text-anchor="end" fill="#111" transform="translate(413.90 636.20) scale(1 0.96)">140</text>
<line x1="416.20" y1="619.10" x2="418.10" y2="619.10" stroke="#000" stroke-width="1.1"/>
<text x="0" y="0" font-size="9.6" text-anchor="end" fill="#111" transform="translate(413.90 621.50) scale(1 0.96)">160</text>
<line x1="416.20" y1="604.40" x2="418.10" y2="604.40" stroke="#000" stroke-width="1.1"/>
<text x="0" y="0" font-size="9.6" text-anchor="end" fill="#111" transform="translate(413.90 606.80) scale(1 0.96)">180</text>
<line x1="430.90" y1="663.00" x2="430.90" y2="661.70" stroke="#000" stroke-width="1.5"/>
<line x1="429.30" y1="661.70" x2="432.50" y2="661.70" stroke="#000" stroke-width="1.5"/>
<line x1="442.20" y1="651.00" x2="442.20" y2="647.00" stroke="#000" stroke-width="1.5"/>
<line x1="440.60" y1="647.00" x2="443.80" y2="647.00" stroke="#000" stroke-width="1.5"/>
<line x1="470.10" y1="649.00" x2="470.10" y2="645.90" stroke="#000" stroke-width="1.5"/>
<line x1="468.50" y1="645.90" x2="471.70" y2="645.90" stroke="#000" stroke-width="1.5"/>
<line x1="480.00" y1="629.00" x2="480.00" y2="617.30" stroke="#000" stroke-width="1.5"/>
<line x1="478.40" y1="617.30" x2="481.60" y2="617.30" stroke="#000" stroke-width="1.5"/>
<rect x="426.65" y="663.85" width="9.10" height="72.85" fill="#fff" stroke="#000" stroke-width="1.3"/>
<rect x="436.20" y="650.71" width="12.20" height="86.00" fill="#1a1a1a"/>
<rect x="465.05" y="649.88" width="8.90" height="86.82" fill="#fff" stroke="#000" stroke-width="1.3"/>
<rect x="474.40" y="629.02" width="11.70" height="107.68" fill="#1a1a1a"/>
<line x1="427.50" y1="641.60" x2="445.60" y2="641.60" stroke="#000" stroke-width="1.4"/>
<text x="0" y="0" font-size="9" text-anchor="middle" font-weight="bold" fill="#000" transform="translate(437.10 642.00)">***</text>
<line x1="465.90" y1="612.10" x2="483.60" y2="612.10" stroke="#000" stroke-width="1.4"/>
<text x="0" y="0" font-size="9" text-anchor="middle" font-weight="bold" fill="#000" transform="translate(474.10 612.60)">**</text>
<text x="0" y="0" font-size="10" text-anchor="middle" fill="#111" transform="translate(437.00 747.80) scale(1 0.96)">control</text>
<text x="0" y="0" font-size="10" text-anchor="middle" fill="#111" transform="translate(474.20 747.80) scale(1 0.96)">LPS</text>
<text x="0" y="0" font-size="9.95" text-anchor="middle" fill="#111" transform="translate(392.00 671.60) rotate(-90) scale(1 0.96)">Collagen content (% of WT control)</text>
</svg>
</body></html>
